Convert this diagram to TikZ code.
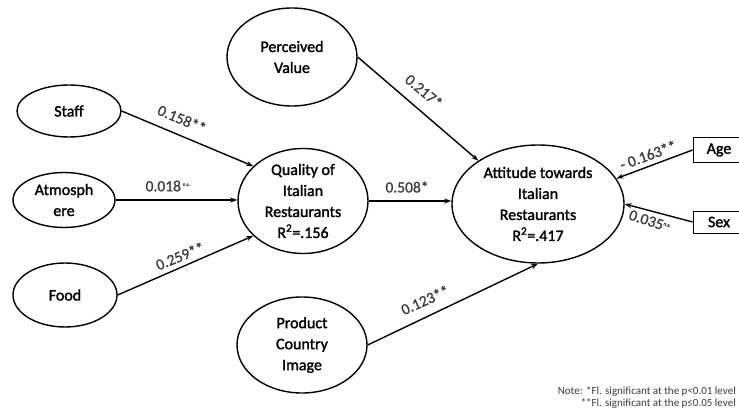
\documentclass[tikz,border=0pt]{standalone}
\usepackage{fontspec}
\setmainfont{Carlito}
\newfontfamily\heavyfont{Carlito}[BoldFont=Carlito,BoldFeatures={FakeBold=1.6}]
\newfontfamily\labelfont{Carlito}[BoldFont=Carlito,BoldFeatures={FakeBold=0.8}]
\usetikzlibrary{shapes.geometric,arrows.meta}
\definecolor{lblgray}{HTML}{3C3C3C}
\tikzset{
  var/.style={ellipse,draw,line width=1.4pt,inner sep=0pt,align=center,
    font=\heavyfont\bfseries\fontsize{16}{21}\selectfont},
  obs/.style={rectangle,draw,line width=0.8pt,inner sep=0pt,
    minimum width=52pt,font=\heavyfont\bfseries\fontsize{16}{19}\selectfont},
  path/.style={line width=1.4pt,-{Stealth[length=7pt,width=5pt]}},
  coef/.style={text=lblgray,inner sep=0pt,font=\labelfont\bfseries\fontsize{15.5}{17}\selectfont},
}
\begin{document}
\begin{tikzpicture}[x=1pt,y=1pt]
\useasboundingbox (0,0) rectangle (739,-414);
\clip (0,0) rectangle (739,-414);
\fill[white] (0,0) rectangle (739,-414);
% latent variables
\node[var,minimum width=130pt,minimum height=98pt] (pv) at (292,-57) {Perceived\\Value};
\node[var,minimum width=104pt,minimum height=52pt] (staff) at (69,-111) {Staff};
\node[var,minimum width=102pt,minimum height=55pt] (atmo) at (64,-200) {Atmosph\\ere};
\node[var,minimum width=104pt,minimum height=64pt] (food) at (65,-295) {Food};
\node[var,minimum width=130pt,minimum height=96pt] (qual) at (303,-201) {Quality of\\Italian\\Restaurants\\R\textsuperscript{2}=.156};
\node[var,minimum width=172pt,minimum height=118pt] (att) at (538,-204) {Attitude towards\\Italian\\Restaurants\\R\textsuperscript{2}=.417};
\node[var,minimum width=130pt,minimum height=96pt] (pci) at (302,-345) {Product\\Country\\Image};
% observed controls
\node[obs,minimum height=25pt] (age) at (719,-150) {Age\hspace{4pt}};
\node[obs,minimum height=22pt] (sex) at (719,-222) {Sex\hspace{4pt}};
% paths
\draw[path] (staff.east) -- (qual.145);
\draw[path] (atmo.east) -- (qual.west |- atmo.east);
\draw[path] (food.east) -- (qual.215);
\draw[path] (qual.east) -- (att.west |- qual.east);
\draw[path] (pv.east) -- (att.144);
\draw[path] (pci.east) -- (att.south);
\draw[path] (age.west) -- (att.18);
\draw[path] (sex.west) -- (att.east);
% coefficients
\node[coef,rotate=-23] (c1) at (182,-119) {0.158**};
\node[coef] (c2) at (168,-186) {0.018\textsuperscript{\,\tiny n.s.}};
\node[coef,rotate=22] (c3) at (180,-256) {0.259**};
\node[coef] (c4) at (407,-187) {0.508*};
\node[coef,rotate=-40] (c5) at (424,-91) {0.217*};
\node[coef,rotate=24] (c6) at (425,-300) {0.123**};
\node[coef,rotate=20] (c7) at (648,-155) {- 0.163**};
\node[coef,rotate=-18] (c8) at (650,-221) {0.035\textsuperscript{\tiny n.s.}};
% note
\node[text=lblgray,anchor=east,align=right,inner sep=0pt,font=\fontsize{11}{11.5}\selectfont] (note) at (736,-397.5)
  {Note: *Fl. significant at the p<0.01 level\\**Fl. significant at the p≤0.05 level};
\end{tikzpicture}
\end{document}
